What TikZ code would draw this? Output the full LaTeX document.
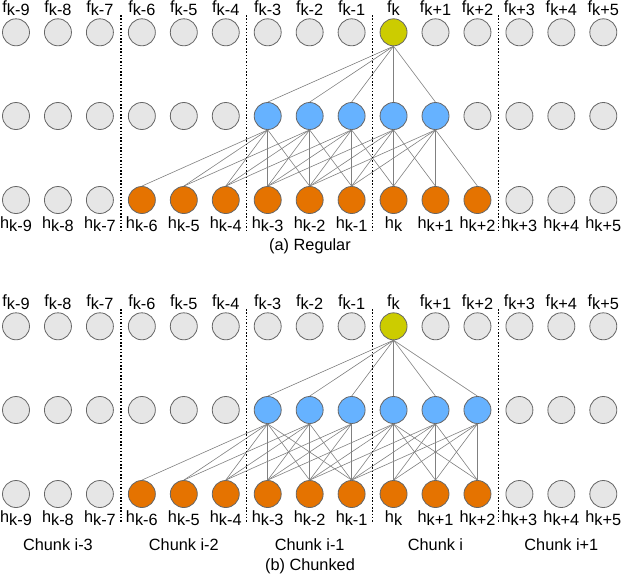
\documentclass[tikz,border=0pt]{standalone}
\usepackage{fontspec}
\setmainfont{Liberation Sans}

\definecolor{idlegray}{HTML}{E6E6E6}
\definecolor{hidblue}{HTML}{66B2FF}
\definecolor{inorange}{HTML}{E57300}
\definecolor{outyellow}{HTML}{CCCC00}

\newcommand{\lowsub}[1]{\raisebox{-3pt}{#1}}
\newcommand{\kidx}[1]{\ifnum#1<0\relax k#1\else\ifnum#1=0\relax k\else k+#1\fi\fi}

\tikzset{
  unit/.style={circle, draw=black!60, line width=0.8pt, minimum size=27pt, inner sep=0pt},
  idle/.style={unit, fill=idlegray},
  hid/.style={unit, fill=hidblue},
  inp/.style={unit, fill=inorange},
  outp/.style={unit, fill=outyellow},
  conn/.style={draw=black!50, line width=0.6pt},
  sep/.style={line width=1.5pt, dash pattern=on 1.5pt off 1.8pt},
  lbl/.style={font=\fontsize{16.3pt}{18pt}\selectfont, inner sep=0pt, anchor=base},
}

\begin{document}
\begin{tikzpicture}[x=1pt, y=-1pt]
    \useasboundingbox (0,0) rectangle (626,574);

    % units of both panels
    \foreach \p/\dy/\nhid in {a/0/10, b/294/11} {
        \foreach \i in {0,...,14} {
            \pgfmathsetmacro\xx{16+41.95*\i}
            \pgfmathtruncatemacro\off{\i-9}
            \def\topst{idle}\def\midst{idle}\def\botst{idle}
            \ifnum\i=9 \def\topst{outp}\fi
            \ifnum\i>5 \ifnum\i>\nhid\else\def\midst{hid}\fi\fi
            \ifnum\i>2 \ifnum\i<12 \def\botst{inp}\fi\fi
            \node[\topst] (\p-f-\i) at (\xx,32.3+\dy) {};
            \node[\midst] (\p-m-\i) at (\xx,116+\dy) {};
            \node[\botst] (\p-h-\i) at (\xx,200+\dy) {};
            \node[lbl] (\p-fl-\i) at (\xx,12.7+\dy) {f\lowsub{\kidx{\off}}};
            \node[lbl] (\p-hl-\i) at (\xx,228.3+\dy) {h\lowsub{\kidx{\off}}};
        }
    }

    % regular
    \foreach \j in {6,...,10} {
        \draw[conn] (a-f-9.south) -- (a-m-\j.north);
        \pgfmathtruncatemacro\lo{\j-3}
        \pgfmathtruncatemacro\hi{\j+1}
        \foreach \h in {\lo,...,\hi}
            \draw[conn] (a-m-\j.south) -- (a-h-\h.north);
    }

    % chunked
    \foreach \j/\e in {6/8, 7/8, 8/8, 9/11, 10/11, 11/11} {
        \draw[conn] (b-f-9.south) -- (b-m-\j.north);
        \pgfmathtruncatemacro\lo{\j-3}
        \foreach \h in {\lo,...,\e}
            \draw[conn] (b-m-\j.south) -- (b-h-\h.north);
    }

    % chunk borders
    \foreach \c in {2.5, 5.5, 8.5, 11.5} {
        \pgfmathsetmacro\xx{16+41.95*\c}
        \draw[sep] (\xx,15) -- (\xx,230);
        \draw[sep] (\xx,309) -- (\xx,523);
    }

    \foreach \c/\txt in {1/Chunk i-3, 4/Chunk i-2, 7/Chunk i-1, 10/Chunk i, 13/Chunk i+1} {
        \pgfmathsetmacro\xx{16+41.95*\c}
        \node[lbl] (chunk-\c) at (\xx,550) {\txt};
    }

    \node[lbl] (cap-a) at (310,250) {(a) Regular};
    \node[lbl] (cap-b) at (310,570) {(b) Chunked};
\end{tikzpicture}
\end{document}
